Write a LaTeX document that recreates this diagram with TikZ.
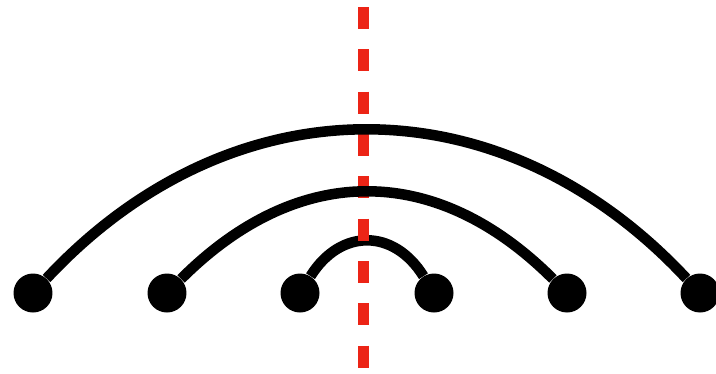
\documentclass[tikz,border=0pt]{standalone}
\usepackage{xcolor}
\definecolor{cutred}{RGB}{236,36,22}

\begin{document}
\begin{tikzpicture}[x=0.02cm, y=0.02cm,
    dot/.style={circle, fill=black, inner sep=0pt, minimum size=0.78cm},
    link/.style={line width=6pt, black},
    cutline/.style={line width=6.2pt, cutred, dash pattern=on 12.5pt off 11.6pt}]

        \useasboundingbox (0, 0) rectangle (716, 373);

        % ---------------------------------------------------
        % 1. Points on the line
        % ---------------------------------------------------
        \node[dot] (p1) at (33, 80) {};
        \node[dot] (p2) at (167, 80) {};
        \node[dot] (p3) at (300, 80) {};
        \node[dot] (p4) at (434, 80) {};
        \node[dot] (p5) at (567, 80) {};
        \node[dot] (p6) at (700, 80) {};

        % ---------------------------------------------------
        % 2. Arcs and the cut
        % ---------------------------------------------------

        % Inner arc (lies below the cut)
        \draw[link] (p3) to[out=58, in=122, looseness=1.28] (p4);

        % Red dashed cut
        \coordinate (cuttop) at (363.5, 366);
        \coordinate (cutbot) at (363.5, 0);
        \draw[cutline] (cuttop) -- (cutbot);

        % Middle and outer arcs (lie above the cut)
        \draw[link] (p2) to[out=45, in=135, looseness=1.14] (p5);
        \draw[link] (p1) to[out=47, in=133, looseness=1.09] (p6);

\end{tikzpicture}
\end{document}
